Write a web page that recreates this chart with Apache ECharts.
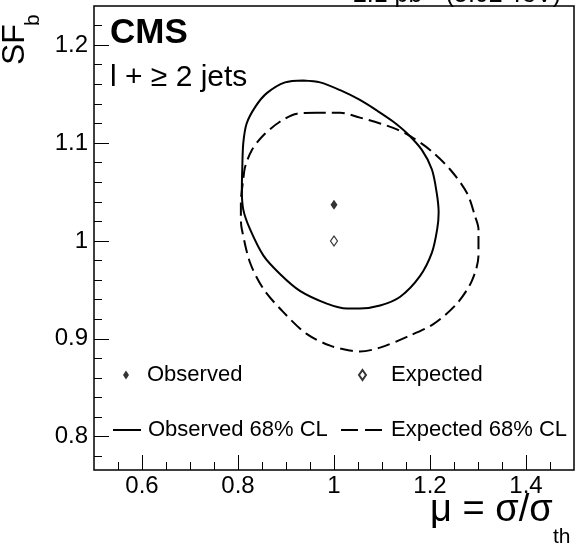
<!DOCTYPE html>
<html>
<head>
<meta charset="utf-8">
<script src="https://cdn.jsdelivr.net/npm/echarts@6/dist/echarts.min.js"></script>
<style>html,body{margin:0;padding:0;background:#fff}#c{width:575px;height:544px}</style>
</head>
<body>
<div id="c"></div>
<script>
// ---- data ----
const xMajorTicks = [0.6, 0.8, 1.0, 1.2, 1.4];
const yMajorTicks = [0.8, 0.9, 1.0, 1.1, 1.2];
const xMinorTicks = [0.55, 0.6, 0.65, 0.7, 0.75, 0.8, 0.85, 0.9, 0.95, 1.0, 1.05, 1.1, 1.15, 1.2, 1.25, 1.3, 1.35, 1.4, 1.45];
const yMinorTicks = [0.78, 0.8, 0.82, 0.84, 0.86, 0.88, 0.9, 0.92, 0.94, 0.96, 0.98, 1.0, 1.02, 1.04, 1.06, 1.08, 1.1, 1.12, 1.14, 1.16, 1.18, 1.2, 1.22];
const observedPoint = [[1.0, 1.037]];
const expectedPoint = [[1.0, 1.0]];
const observedContour = [
  [0.936, 1.164], [0.898, 1.162], [0.860, 1.151], [0.836, 1.137], [0.818, 1.120],
  [0.811, 1.100], [0.809, 1.076], [0.808, 1.052], [0.811, 1.032], [0.825, 1.012],
  [0.853, 0.985], [0.888, 0.966], [0.929, 0.949], [0.985, 0.936], [1.027, 0.931],
  [1.054, 0.931], [1.096, 0.934], [1.138, 0.943], [1.179, 0.964], [1.204, 0.988],
  [1.215, 1.012], [1.218, 1.029], [1.214, 1.049], [1.204, 1.073], [1.183, 1.093],
  [1.152, 1.110], [1.123, 1.122], [1.090, 1.133], [1.054, 1.144], [1.013, 1.154],
  [0.971, 1.162], [0.936, 1.164]
];
const expectedContour = [
  [0.964, 1.131], [0.923, 1.130], [0.888, 1.122], [0.853, 1.108], [0.829, 1.093],
  [0.815, 1.076], [0.811, 1.063], [0.806, 1.039], [0.806, 1.022], [0.808, 1.012],
  [0.825, 0.978], [0.853, 0.951], [0.895, 0.927], [0.943, 0.905], [0.992, 0.893],
  [1.034, 0.888], [1.054, 0.887], [1.096, 0.891], [1.152, 0.902], [1.207, 0.915],
  [1.256, 0.936], [1.287, 0.959], [1.301, 0.985], [1.301, 1.012], [1.294, 1.025],
  [1.277, 1.049], [1.242, 1.073], [1.200, 1.093], [1.159, 1.107], [1.131, 1.114],
  [1.096, 1.120], [1.054, 1.126], [1.013, 1.131], [0.964, 1.131]
];
const seriesNames = ['Observed', 'Expected', 'Observed 68% CL', 'Expected 68% CL'];

// ---- chart ----
const FONT = '"Liberation Sans", Arial, Helvetica, sans-serif';
const chart = echarts.init(document.getElementById('c'), null, {renderer: 'canvas'});
const gridBox = {left: 94, right: 1, top: 6, bottom: 74};
const X_MIN = 0.5, X_MAX = 1.5, Y_MIN = 0.766, Y_MAX = 1.24;
function legendFor(name, left, top, w, h, pad, extra) {
  return Object.assign({
    data: [name], left: left, top: top, orient: 'horizontal', padding: 0,
    itemWidth: w, itemHeight: h, selectedMode: false,
    textStyle: {fontFamily: FONT, fontSize: 22, color: '#000', lineHeight: 22, padding: [0, 0, 0, pad]}
  }, extra || {});
}
const tickLine = {color: '#000', width: 1};
const option = {
  animation: false,
  backgroundColor: '#fff',
  grid: [
    Object.assign({show: true, borderColor: '#000', borderWidth: 1.5, backgroundColor: 'transparent'}, gridBox),
    Object.assign({show: false}, gridBox)
  ],
  xAxis: [
    {type: 'value', gridIndex: 0, min: X_MIN, max: X_MAX,
     axisLine: {show: false}, splitLine: {show: false}, axisLabel: {show: false},
     axisTick: {show: true, inside: true, length: 8, customValues: xMinorTicks, lineStyle: tickLine}},
    {type: 'value', gridIndex: 1, min: X_MIN, max: X_MAX,
     axisLine: {show: false}, splitLine: {show: false},
     axisTick: {show: true, inside: true, length: 15, customValues: xMajorTicks, lineStyle: tickLine},
     axisLabel: {show: true, customValues: xMajorTicks, margin: 4, fontFamily: FONT, fontSize: 24, color: '#000'}}
  ],
  yAxis: [
    {type: 'value', gridIndex: 0, min: Y_MIN, max: Y_MAX,
     axisLine: {show: false}, splitLine: {show: false}, axisLabel: {show: false},
     axisTick: {show: true, inside: true, length: 8, customValues: yMinorTicks, lineStyle: tickLine}},
    {type: 'value', gridIndex: 1, min: Y_MIN, max: Y_MAX,
     axisLine: {show: false}, splitLine: {show: false},
     axisTick: {show: true, inside: true, length: 15, customValues: yMajorTicks, lineStyle: tickLine},
     axisLabel: {show: true, customValues: yMajorTicks, margin: 6, fontFamily: FONT, fontSize: 24, color: '#000'}}
  ],
  legend: [
    legendFor(seriesNames[0], 123, 364, 6, 9, 13),
    legendFor(seriesNames[1], 358, 364, 7, 10, 20),
    legendFor(seriesNames[2], 112, 419, 28, 14, 2,
      {itemStyle: {opacity: 0}, lineStyle: {width: 2, opacity: 1}}),
    legendFor(seriesNames[3], 340, 419, 42, 14, 3,
      {itemStyle: {opacity: 0}, lineStyle: {type: [17, 7], width: 2, opacity: 1}})
  ],
  series: [
    {name: seriesNames[2], type: 'line', xAxisIndex: 0, yAxisIndex: 0, data: observedContour,
     smooth: 0.3, symbol: 'none', lineStyle: {color: '#000', width: 2}, itemStyle: {color: '#000'}, z: 3},
    {name: seriesNames[3], type: 'line', xAxisIndex: 0, yAxisIndex: 0, data: expectedContour,
     smooth: 0.3, symbol: 'none', lineStyle: {color: '#000', width: 2, type: [13, 6]}, itemStyle: {color: '#000'}, z: 3},
    {name: seriesNames[0], type: 'scatter', xAxisIndex: 0, yAxisIndex: 0, data: observedPoint,
     symbol: 'diamond', symbolSize: [7, 10], itemStyle: {color: '#000'}, z: 4},
    {name: seriesNames[1], type: 'scatter', xAxisIndex: 0, yAxisIndex: 0, data: expectedPoint,
     symbol: 'diamond', symbolSize: [7, 10], itemStyle: {color: '#fff', borderColor: '#000', borderWidth: 1.2}, z: 4}
  ],
  graphic: [
    {type: 'text', x: 110, y: 33.5, style: {text: 'CMS', font: 'bold 35px ' + FONT, fill: '#000', align: 'left', verticalAlign: 'middle'}},
    {type: 'text', x: 110, y: 77.5, style: {text: 'l + \u2265 2 jets', font: '30px ' + FONT, fill: '#000', align: 'left', verticalAlign: 'middle'}},
    {type: 'text', x: 561, y: -4.7, style: {text: '2.1 pb\u207B\u00B9 (5.02 TeV)', font: '25px ' + FONT, fill: '#000', align: 'right', verticalAlign: 'middle'}},
    {type: 'text', x: 15, y: 65, rotation: Math.PI / 2, style: {text: 'SF', font: '32px ' + FONT, fill: '#000', align: 'left', verticalAlign: 'middle'}},
    {type: 'text', x: 33, y: 26, rotation: Math.PI / 2, style: {text: 'b', font: '21px ' + FONT, fill: '#000', align: 'left', verticalAlign: 'middle'}},
    {type: 'text', x: 430, y: 511, style: {text: '\u03BC = \u03C3/\u03C3', font: '38px ' + FONT, fill: '#000', align: 'left', verticalAlign: 'middle'}},
    {type: 'text', x: 553, y: 537.5, style: {text: 'th', font: '21px ' + FONT, fill: '#000', align: 'left', verticalAlign: 'middle'}}
  ]
};
chart.setOption(option);
</script>
</body>
</html>
